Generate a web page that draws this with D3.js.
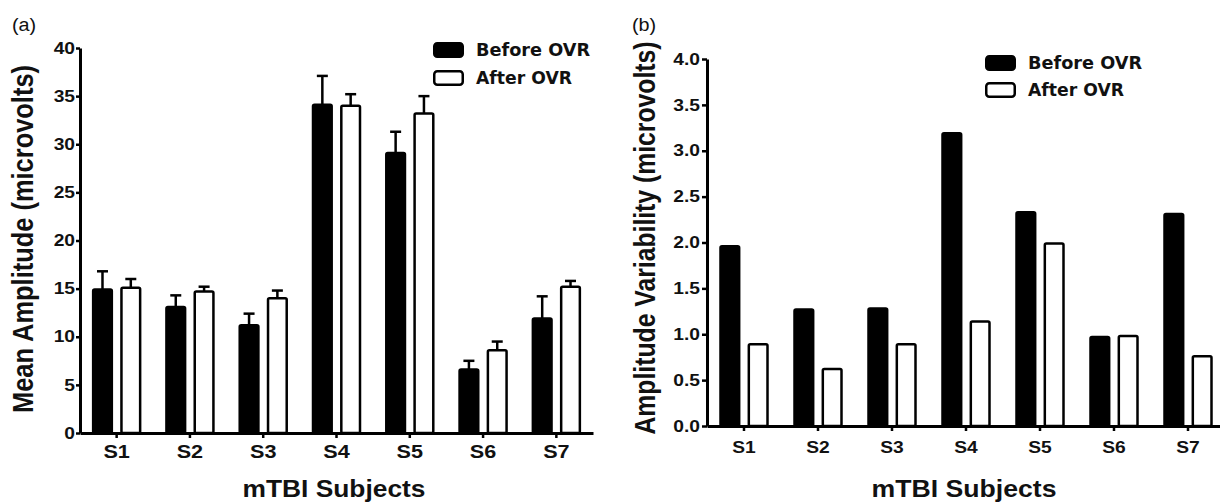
<!DOCTYPE html>
<html lang="en">
<head>
    <meta charset="UTF-8">
    <title>OVR - mTBI amplitude</title>
    <script src="https://d3js.org/d3.v7.min.js"></script>
    <style>
        body{
            margin: 0;
            background: white;
        }
        svg text{
            font-family: "Liberation Sans", Arial, sans-serif;
            fill: #111;
        }
        .legend text{
            font-family: "DejaVu Sans", sans-serif;
            font-weight: bold;
        }
    </style>
</head>
<body>
<svg id="chart" width="1220" height="504"></svg>
<script>
    // values
    let subjects = ["S1", "S2", "S3", "S4", "S5", "S6", "S7"]
    let seriesNames = ["Before OVR", "After OVR"]

    let ampBefore = [14.9, 13.1, 11.2, 34.1, 29.1, 6.6, 11.9]
    let ampAfter = [15.1, 14.7, 14.0, 34.0, 33.2, 8.6, 15.2]
    let ampBeforeErr = [1.9, 1.2, 1.2, 3.0, 2.2, 0.9, 2.3]
    let ampAfterErr = [0.9, 0.5, 0.8, 1.2, 1.8, 0.9, 0.6]

    let varBefore = [1.96, 1.27, 1.28, 3.19, 2.33, 0.97, 2.31]
    let varAfter = [0.89, 0.62, 0.89, 1.14, 1.99, 0.98, 0.76]

    let ampTicks = [0, 5, 10, 15, 20, 25, 30, 35, 40]
    let varTicks = [0, 0.5, 1.0, 1.5, 2.0, 2.5, 3.0, 3.5, 4.0]

    let svg = d3.select("#chart")
    let stretchX = 1.2   // the source figure is a bit wide horizontally

    function stretch(sel, k) {
        sel.each(function () {
            let w = this.getComputedTextLength()
            d3.select(this).attr("textLength", w * k).attr("lengthAdjust", "spacingAndGlyphs")
        })
    }

    function panel(opt) {
        let g = svg.append("g")

        let x0 = d3.scaleBand().domain(subjects).range(opt.xRange)
        let bw = x0.bandwidth()
        let x1 = d3.scaleBand().domain(seriesNames)
            .range([bw / 2 - 23.5, bw / 2 + 23.5]).paddingInner(0.34)
        let y = d3.scaleLinear().domain(opt.yDomain).range(opt.yRange)

        let rows = subjects.map((s, i) => ({
            subject: s,
            vals: [
                {key: seriesNames[0], v: opt.before[i], e: opt.beforeErr ? opt.beforeErr[i] : null},
                {key: seriesNames[1], v: opt.after[i], e: opt.afterErr ? opt.afterErr[i] : null}
            ]
        }))

        let groups = g.selectAll("g.grp")
            .data(rows)
            .enter().append("g")
            .attr("class", "grp")
            .attr("transform", d => `translate(${x0(d.subject)},0)`)

        // error bars first, bars drawn over them
        groups.selectAll("g.err")
            .data(d => d.vals.filter(v => v.e !== null))
            .enter().append("g")
            .attr("class", "err")
            .each(function (d) {
                let cx = x1(d.key) + x1.bandwidth() / 2
                let eg = d3.select(this)
                eg.append("line")
                    .attr("x1", cx).attr("x2", cx)
                    .attr("y1", y(d.v)).attr("y2", y(d.v + d.e))
                    .attr("stroke", "black").attr("stroke-width", 2.5)
                eg.append("line")
                    .attr("x1", cx - 5.5).attr("x2", cx + 5.5)
                    .attr("y1", y(d.v + d.e)).attr("y2", y(d.v + d.e))
                    .attr("stroke", "black").attr("stroke-width", 2.5)
            })

        groups.selectAll("rect")
            .data(d => d.vals)
            .enter().append("rect")
            .attr("x", d => x1(d.key))
            .attr("width", x1.bandwidth())
            .attr("y", d => y(d.v))
            .attr("height", d => y(0) - y(d.v))
            .attr("rx", 1.5)
            .attr("fill", d => d.key === seriesNames[0] ? "black" : "white")
            .attr("stroke", "black")
            .attr("stroke-width", 2.5)

        // y axis
        let yAxis = g.append("g")
            .attr("transform", `translate(${opt.xRange[0]},0)`)
            .call(d3.axisLeft(y).tickValues(opt.ticks).tickFormat(opt.fmt)
                .tickSize(opt.yTick).tickSizeOuter(0).tickPadding(opt.yPad))
        yAxis.select(".domain").attr("stroke-width", 3)
        yAxis.selectAll(".tick line").attr("stroke-width", 2.5)
        yAxis.selectAll("text")
            .style("font-size", opt.yFont + "px").style("font-weight", "bold").attr("fill", "#222")
            .call(stretch, stretchX)

        // x axis
        let xAxis = g.append("g")
            .attr("transform", `translate(0,${y(0)})`)
            .call(d3.axisBottom(x0).tickSize(5).tickSizeOuter(0).tickPadding(opt.xPad))
        xAxis.select(".domain").attr("stroke-width", 3)
        xAxis.selectAll(".tick line").attr("stroke-width", 2.5)
        xAxis.selectAll("text")
            .style("font-size", opt.xFont + "px").style("font-weight", "bold").attr("fill", "#222")
            .call(stretch, stretchX)

        // axis titles
        g.append("text")
            .attr("transform", `translate(${opt.yTitlePos[0]},${opt.yTitlePos[1]}) scale(1.12,1) rotate(-90)`)
            .attr("text-anchor", "middle")
            .attr("textLength", opt.yTitleLen).attr("lengthAdjust", "spacingAndGlyphs")
            .style("font-size", "26px").style("font-weight", "bold")
            .text(opt.yTitle)

        g.append("text")
            .attr("x", opt.xTitlePos[0]).attr("y", opt.xTitlePos[1])
            .attr("text-anchor", "middle")
            .attr("textLength", opt.xTitleLen).attr("lengthAdjust", "spacingAndGlyphs")
            .style("font-size", "24px").style("font-weight", "bold")
            .text("mTBI Subjects")

        // panel letter
        g.append("text")
            .attr("x", opt.letterPos[0]).attr("y", opt.letterPos[1])
            .style("font-size", "18px")
            .text(opt.letter)
            .call(stretch, 1.1)

        // legend
        let legend = g.append("g").attr("class", "legend")
            .attr("transform", `translate(${opt.legendPos[0]},${opt.legendPos[1]})`)
        let items = legend.selectAll("g")
            .data(seriesNames)
            .enter().append("g")
            .attr("transform", (d, i) => `translate(0,${i * opt.legendGap})`)
        items.append("rect")
            .attr("x", 1.25).attr("y", 1.25)
            .attr("width", 28.5).attr("height", 13.5)
            .attr("rx", 3)
            .attr("fill", (d, i) => i === 0 ? "black" : "white")
            .attr("stroke", "black").attr("stroke-width", 2.5)
        items.append("text")
            .attr("x", 43).attr("y", 13.5)
            .attr("textLength", (d, i) => i === 0 ? 114 : 96).attr("lengthAdjust", "spacingAndGlyphs")
            .style("font-size", "17px")
            .text(d => d)
    }

    panel({
        xRange: [80, 593], yRange: [433, 48], yDomain: [0, 40],
        before: ampBefore, after: ampAfter, beforeErr: ampBeforeErr, afterErr: ampAfterErr,
        ticks: ampTicks, fmt: d3.format("d"), yTick: 4, yPad: 1, yFont: 16,
        xPad: 7, xFont: 18,
        yTitle: "Mean Amplitude (microvolts)", yTitlePos: [33, 239], yTitleLen: 348,
        xTitlePos: [334, 497], xTitleLen: 183,
        letter: "(a)", letterPos: [12, 31],
        legendPos: [433, 42], legendGap: 28
    })

    panel({
        xRange: [707, 1225], yRange: [426, 59], yDomain: [0, 4],
        before: varBefore, after: varAfter, beforeErr: null, afterErr: null,
        ticks: varTicks, fmt: d3.format(".1f"), yTick: 5, yPad: 2, yFont: 16,
        xPad: 11, xFont: 16,
        yTitle: "Amplitude Variability (microvolts)", yTitlePos: [655, 238], yTitleLen: 393,
        xTitlePos: [964, 497], xTitleLen: 185,
        letter: "(b)", letterPos: [632, 31],
        legendPos: [985, 55], legendGap: 27
    })
</script>
</body>
</html>
